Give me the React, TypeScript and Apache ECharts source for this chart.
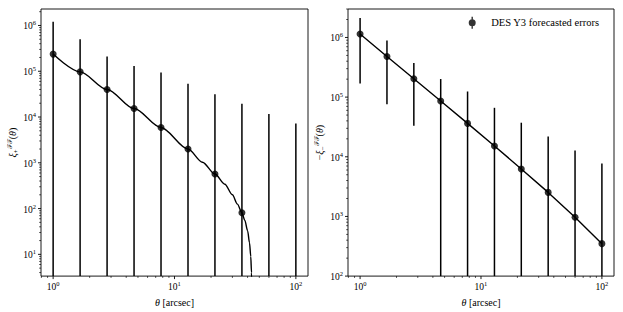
import { useEffect, useRef } from 'react';
import * as echarts from 'echarts';

// ---- data ----
const theta = [1, 1.668, 2.783, 4.642, 7.743, 12.92, 21.54, 35.94, 59.95, 100];
const xiPlus = [2.37e5, 9.7e4, 4.0e4, 1.53e4, 5.9e3, 2.0e3, 569, 81, -100, -175];
const xiMinusNeg = [1.14e6, 4.81e5, 2.03e5, 8.6e4, 3.63e4, 1.52e4, 6.25e3, 2.53e3, 966, 350];
const sigma = [9.7e5, 4.05e5, 1.7e5, 1.15e5, 8.8e4, 5.1e4, 3.1e4, 1.94e4, 1.18e4, 7.4e3];

// theory curve for xi_+ (crosses zero near 43 arcsec)
const thetaCurve = [1, 1.668, 2.783, 4.642, 7.743, 12.92, 17, 21.54, 26, 30, 33, 35.94, 38, 40, 41.5, 42.5, 43.1, 43.5];
const xiCurve = [2.37e5, 9.7e4, 4.0e4, 1.53e4, 5.9e3, 2.0e3, 1030, 569, 340, 200, 125, 81, 55, 33, 18, 9, 4, 1.5];

const legendName = 'DES Y3 forecasted errors';
const tickExponents = [-1, 0, 1, 2, 3, 4, 5, 6, 7];
const tickMultipliers = [1, 2, 3, 4, 5, 6, 7, 8, 9];

// axis ranges
const X_MIN = 0.7943;
const X_MAX = 125.9;
const Y0_MIN = 3.35;
const Y0_MAX = 2.29e6;
const Y1_MIN = 100;
const Y1_MAX = 3.0e6;

const FONT = "'Liberation Serif', 'DejaVu Serif', serif";

const labelRich = {
  b: { fontSize: 9.5, lineHeight: 12, verticalAlign: 'bottom', fontFamily: FONT, color: '#000' },
  s: { fontSize: 6.5, lineHeight: 8, verticalAlign: 'top', fontFamily: FONT, color: '#000' },
};

function powLabel(v: number) {
  const l = Math.log10(v);
  const r = Math.round(l);
  if (Math.abs(l - r) < 1e-6) return `{b|10}{s|${r}}`;
  return '';
}

const nameRich = {
  i: { fontStyle: 'italic', fontSize: 10, lineHeight: 13, fontFamily: FONT, color: '#000' },
  n: { fontSize: 10, lineHeight: 13, fontFamily: FONT, color: '#000' },
  sb: { fontSize: 7, lineHeight: 8, verticalAlign: 'bottom', fontFamily: FONT, color: '#000' },
  sp: { fontSize: 6.5, lineHeight: 8, verticalAlign: 'top', fontFamily: "'DejaVu Serif', serif", color: '#000' },
};

function tickSeries(idx: number, xMin: number, xMax: number, yMin: number, yMax: number) {
  return {
    type: 'custom',
    xAxisIndex: idx,
    yAxisIndex: idx,
    silent: true,
    clip: false,
    z: 1,
    data: [[xMin, yMin]],
    renderItem: (_p: any, api: any) => {
      const children: any[] = [];
      tickExponents.forEach((e) => {
        tickMultipliers.forEach((m) => {
          const v = m * Math.pow(10, e);
          const major = m === 1;
          const len = major ? 3 : 1.8;
          const lw = major ? 0.9 : 0.7;
          if (v >= xMin * 0.9999 && v <= xMax * 1.0001) {
            const p = api.coord([v, yMin]);
            children.push({
              type: 'line',
              shape: { x1: p[0], y1: p[1], x2: p[0], y2: p[1] + len },
              style: { stroke: '#000', lineWidth: lw },
            });
          }
          if (v >= yMin * 0.9999 && v <= yMax * 1.0001) {
            const p = api.coord([xMin, v]);
            children.push({
              type: 'line',
              shape: { x1: p[0] - len, y1: p[1], x2: p[0], y2: p[1] },
              style: { stroke: '#000', lineWidth: lw },
            });
          }
        });
      });
      return { type: 'group', children };
    },
  };
}

function errorSeries(idx: number, vals: number[], yMin: number, yMax: number, name?: string) {
  const data = theta.map((t, i) => [t, vals[i] + sigma[i], vals[i] - sigma[i]]);
  return {
    type: 'custom',
    name,
    xAxisIndex: idx,
    yAxisIndex: idx,
    silent: true,
    clip: false,
    z: 2,
    encode: { x: 0, y: 1 },
    data,
    renderItem: (_p: any, api: any) => {
      const x = api.value(0);
      let hi = api.value(1);
      let lo = api.value(2);
      if (hi > yMax) hi = yMax;
      if (!(lo > yMin)) lo = yMin;
      const p1 = api.coord([x, lo]);
      const p2 = api.coord([x, hi]);
      return {
        type: 'line',
        shape: { x1: p1[0], y1: p1[1], x2: p2[0], y2: p2[1] },
        style: { stroke: '#000', lineWidth: 1.5 },
      };
    },
  };
}

const legendIcon =
  'path://M3.3,0H4.7V12H3.3Z M7.5,6A3.5,3.5,0,1,1,0.5,6A3.5,3.5,0,1,1,7.5,6Z';

export default function App() {
  const ref = useRef<HTMLDivElement>(null);
  useEffect(() => {
    if (!ref.current) return;
    const chart = echarts.init(ref.current, undefined, { renderer: 'svg' });

    const xAxisBase = (i: number) => ({
      type: 'log',
      logBase: 10,
      gridIndex: i,
      min: X_MIN,
      max: X_MAX,
      axisLine: { show: false },
      axisTick: { show: false },
      splitLine: { show: false },
      axisLabel: { formatter: powLabel, margin: 4, rich: labelRich, color: '#000', fontFamily: FONT },
      name: '{i|θ}{n| [arcsec]}',
      nameLocation: 'middle',
      nameGap: 14,
      nameTextStyle: { rich: nameRich, fontFamily: FONT },
    });

    const yAxisBase = (i: number, min: number, max: number, name: string, gap: number) => ({
      type: 'log',
      logBase: 10,
      gridIndex: i,
      min,
      max,
      axisLine: { show: false },
      axisTick: { show: false },
      splitLine: { show: false },
      axisLabel: { formatter: powLabel, margin: 5, rich: labelRich, color: '#000', fontFamily: FONT },
      name,
      nameLocation: 'middle',
      nameRotate: 90,
      nameGap: gap,
      nameTextStyle: { rich: nameRich, fontFamily: FONT },
    });

    const dots0 = theta
      .map((t, i) => [t, xiPlus[i]])
      .filter((d) => d[1] > 0);
    const dots1 = theta.map((t, i) => [t, xiMinusNeg[i]]);

    const option: any = {
      animation: false,
      textStyle: { fontFamily: FONT, color: '#000' },
      grid: [
        { left: 41, top: 9, width: 267, height: 267.5, show: true, borderColor: '#000', borderWidth: 0.9, backgroundColor: 'transparent' },
        { left: 348, top: 9, width: 266, height: 267.5, show: true, borderColor: '#000', borderWidth: 0.9, backgroundColor: 'transparent' },
      ],
      xAxis: [xAxisBase(0), xAxisBase(1)],
      yAxis: [
        yAxisBase(0, Y0_MIN, Y0_MAX, '{i|ξ}{sb|+}{sp|ℱℱ}{n|(}{i|θ}{n|)}', 19),
        yAxisBase(1, Y1_MIN, Y1_MAX, '{n|−}{i|ξ}{sb|−}{sp|ℱℱ}{n|(}{i|θ}{n|)}', 21),
      ],
      legend: {
        left: 468.7,
        top: 16.7,
        padding: 0,
        itemWidth: 8,
        itemHeight: 12,
        selectedMode: false,
        data: [{ name: legendName, icon: legendIcon, itemStyle: { color: '#000' } }],
        textStyle: { fontFamily: FONT, fontSize: 10.5, color: '#000', padding: [0, 0, 0, 10] },
      },
      series: [
        tickSeries(0, X_MIN, X_MAX, Y0_MIN, Y0_MAX),
        tickSeries(1, X_MIN, X_MAX, Y1_MIN, Y1_MAX),
        errorSeries(0, xiPlus, Y0_MIN, Y0_MAX),
        errorSeries(1, xiMinusNeg, Y1_MIN, Y1_MAX),
        {
          type: 'line',
          xAxisIndex: 0,
          yAxisIndex: 0,
          data: thetaCurve.map((t, i) => [t, xiCurve[i]]),
          showSymbol: false,
          symbol: 'none',
          smooth: 0.3,
          smoothMonotone: 'x',
          clip: true,
          lineStyle: { color: '#000', width: 1.4 },
          silent: true,
          z: 3,
        },
        {
          type: 'line',
          xAxisIndex: 1,
          yAxisIndex: 1,
          data: dots1,
          showSymbol: false,
          symbol: 'none',
          clip: true,
          lineStyle: { color: '#000', width: 1.4 },
          silent: true,
          z: 3,
        },
        {
          type: 'scatter',
          xAxisIndex: 0,
          yAxisIndex: 0,
          data: dots0,
          symbol: 'circle',
          symbolSize: 7,
          itemStyle: { color: '#000' },
          silent: true,
          z: 4,
        },
        {
          type: 'scatter',
          name: legendName,
          xAxisIndex: 1,
          yAxisIndex: 1,
          data: dots1,
          symbol: 'circle',
          symbolSize: 7,
          itemStyle: { color: '#000' },
          silent: true,
          z: 4,
        },
      ],
    };
    chart.setOption(option);
    return () => chart.dispose();
  }, []);
  return (
    <div
      ref={ref}
      style={{ position: 'fixed', left: 0, top: 0, width: 623, height: 312, background: '#fff' }}
    />
  );
}
